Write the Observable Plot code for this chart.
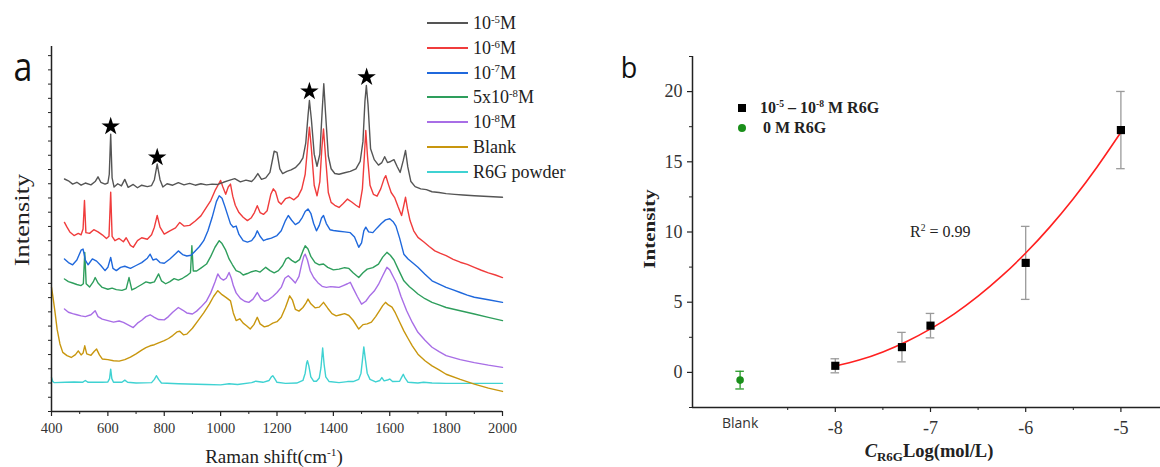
<!DOCTYPE html>
<html><head><meta charset="utf-8">
<script src="https://cdn.jsdelivr.net/npm/d3@7"></script>
<script src="https://cdn.jsdelivr.net/npm/@observablehq/plot@0.6"></script>
<style>
html,body{margin:0;padding:0;background:#fff;}
#root{position:relative;width:1160px;height:467px;overflow:hidden;background:#fff;font-family:'Liberation Serif','Times New Roman',serif;color:#222;}
.abs{position:absolute;line-height:1;white-space:nowrap;}
.sup{font-size:0.6em;position:relative;top:-0.6em;}
.sub{font-size:0.7em;position:relative;top:0.3em;}
#root svg{position:absolute;top:0;overflow:visible;}
</style></head><body><div id="root"></div>
<script>
// ---------- Panel a: Raman spectra (wavenumber, intensity a.u.) ----------
const s1e5 = [[446,63.7],[460,63.2],[475,62.3],[490,62.8],[505,62.0],[520,62.6],[540,62.1],[555,63.0],[565,64.3],[575,62.8],[590,62.3],[600,62.6],[605,65],[610,76.0],[615,64],[622,61.5],[635,62.4],[648,61.8],[660,63.6],[672,61.4],[690,62.2],[705,61.3],[720,62.0],[740,61.6],[755,61.9],[765,63.5],[775,67.8],[785,63.5],[795,61.5],[810,62.4],[830,62.0],[850,62.7],[870,62.1],[890,62.5],[910,62.0],[930,62.4],[950,62.1],[970,62.3],[990,62.2],[1010,62.8],[1030,63.3],[1050,63.8],[1070,62.9],[1090,63.4],[1110,63.0],[1120,63.8],[1132,65.2],[1145,63.6],[1160,64.0],[1175,65.5],[1190,71.3],[1200,71.0],[1210,66.5],[1220,65.2],[1235,65.8],[1250,66.2],[1265,66.8],[1280,68.0],[1292,69.5],[1302,73.5],[1310,81],[1315,85.2],[1322,80],[1332,70.5],[1342,67.2],[1352,70.5],[1360,82],[1366,89.8],[1372,82],[1382,70],[1392,66.5],[1405,65.2],[1420,65.0],[1440,65.4],[1460,65.8],[1480,66.5],[1495,68.5],[1505,74],[1512,85],[1517,89.3],[1523,84],[1532,72],[1545,69],[1560,67.5],[1572,68.2],[1582,69.8],[1592,68.2],[1603,68.5],[1615,69.0],[1627,67.0],[1637,65.5],[1648,68.8],[1656,71.5],[1664,67],[1675,63],[1690,61.6],[1710,61.0],[1730,60.8],[1750,60.2],[1775,60.0],[1800,59.7],[1830,59.5],[1860,59.3],[1900,59.1],[1950,58.9],[2000,58.7]];
const s1e6 = [[446,51.8],[455,50.5],[465,49.2],[480,48.2],[495,48.8],[505,48.4],[512,50],[517,57.8],[522,49],[535,48.8],[550,49.8],[565,49.2],[580,48.4],[595,47.4],[604,48],[610,60.1],[615,48],[625,46.8],[640,47.4],[655,46.5],[665,47.6],[680,45.5],[690,45.0],[705,46.8],[720,47.6],[740,47.2],[755,48.4],[765,50.5],[775,53.7],[785,50.5],[800,48.6],[820,49.5],[840,50.3],[855,51.8],[870,50.8],[890,51.0],[910,52.2],[930,53.6],[950,56.0],[965,57.8],[980,60.5],[992,62.2],[1000,63.3],[1008,61.5],[1018,59.5],[1027,61.5],[1035,62.3],[1043,59],[1052,56.5],[1065,54.5],[1080,53.2],[1095,52.3],[1108,53.0],[1120,54.5],[1130,56.4],[1140,54.5],[1152,54.0],[1165,55.0],[1178,59.5],[1187,61.0],[1195,60.2],[1205,57.5],[1215,56.8],[1230,58.3],[1245,58.7],[1260,58.0],[1275,59.0],[1288,61],[1300,65.0],[1308,72],[1315,77.9],[1322,72],[1332,62],[1342,59.1],[1352,63],[1359,72],[1365,77.4],[1372,70],[1382,60],[1392,57.3],[1405,56.5],[1420,55.9],[1435,57.0],[1450,58.2],[1465,57.4],[1480,56.5],[1492,55.9],[1503,61],[1510,70],[1515,77],[1521,70],[1530,62],[1542,59.5],[1555,59.0],[1568,61],[1580,63.8],[1586,64.6],[1595,62.3],[1605,60.0],[1618,58.5],[1630,56],[1642,53.7],[1650,56.5],[1656,58.7],[1663,55.5],[1672,52.3],[1685,49.5],[1700,47.7],[1720,46.5],[1740,45.2],[1760,44.0],[1780,43.3],[1800,42.7],[1825,41.7],[1850,40.9],[1875,40.3],[1900,39.5],[1925,38.7],[1950,38.0],[1975,37.4],[2000,36.7]];
const s1e7 = [[446,41.8],[460,40.8],[475,40.2],[490,41.5],[505,44.2],[512,44.5],[520,41.5],[530,40.2],[545,41.8],[560,41.2],[575,40.0],[590,38.6],[600,39.5],[610,42.2],[618,39.2],[630,38.6],[645,39.5],[660,39.8],[680,39.2],[700,40.0],[720,40.8],[740,42.0],[750,43.1],[760,41.5],[772,41.8],[785,40.8],[800,40.6],[820,41.8],[840,43.2],[850,44.0],[865,43.0],[880,42.6],[895,42.8],[910,44.0],[925,45.2],[940,46.8],[955,49.5],[970,53.2],[985,57.5],[995,59.1],[1005,58.4],[1015,56.2],[1025,53.8],[1035,51.4],[1045,50.5],[1055,50.8],[1065,48.5],[1080,46.8],[1095,46.4],[1110,46.8],[1122,48],[1130,49.5],[1140,48],[1152,46.8],[1165,47.2],[1180,47.5],[1200,48.2],[1215,49.5],[1230,52.3],[1240,53.7],[1252,52.4],[1265,51.2],[1278,51.8],[1290,53.2],[1300,54.8],[1310,55.5],[1320,54.3],[1330,51.5],[1340,49.5],[1350,51],[1358,53],[1365,53.7],[1375,51.5],[1388,49.8],[1400,49.6],[1420,49.4],[1440,49.2],[1460,49.0],[1475,47.8],[1490,45.0],[1500,46.2],[1508,49.5],[1515,50.5],[1525,49.2],[1540,49.0],[1555,50.3],[1570,51.5],[1585,52.5],[1600,52.8],[1612,52.0],[1622,50.8],[1635,47.5],[1650,43.1],[1665,41.8],[1680,40.8],[1700,39.5],[1725,37.6],[1750,35.8],[1775,34.9],[1800,34.0],[1825,33.3],[1850,32.6],[1875,31.9],[1900,31.3],[1950,30.6],[2000,29.9]];
const s5e8 = [[446,36.3],[460,35.6],[475,35.2],[490,34.8],[505,34.5],[513,35],[518,43.6],[523,35],[535,34.1],[548,35.5],[555,36.7],[565,35.2],[580,34.0],[600,33.5],[615,33.8],[630,33.4],[650,33.2],[665,33.6],[675,36.7],[685,33.3],[700,33.9],[720,34.8],[735,35.5],[750,35.2],[765,35.5],[780,37.7],[790,35.8],[805,35.0],[820,35.6],[835,36.4],[850,36.0],[865,36.5],[880,37.2],[893,38],[898,45.4],[903,38.5],[915,38.5],[930,39.3],[950,40.4],[965,42.5],[980,45.0],[995,46.8],[1005,46.0],[1018,44.2],[1030,41.8],[1042,40.2],[1055,38.6],[1068,38.2],[1080,37.4],[1095,37.8],[1110,38.3],[1125,38.6],[1140,38.2],[1160,39.5],[1175,38.6],[1190,38.0],[1205,38.6],[1220,40.0],[1232,41.8],[1240,42.2],[1252,41.4],[1265,40.8],[1280,41.6],[1292,44.0],[1300,45.4],[1310,44.5],[1320,42.5],[1335,40.8],[1350,40.2],[1365,40.4],[1380,39.5],[1400,38.8],[1420,39.0],[1440,39.4],[1455,39.2],[1470,38.0],[1490,36.7],[1505,38.0],[1520,39.0],[1540,39.4],[1560,40.4],[1575,42.3],[1590,43.6],[1602,42.8],[1615,41.5],[1630,39.0],[1650,35.8],[1670,34.2],[1685,33.2],[1700,32.2],[1725,30.9],[1750,29.9],[1775,29.2],[1800,28.5],[1850,27.6],[1900,26.7],[1950,25.8],[2000,24.9]];
const s1e8 = [[446,28.1],[460,27.2],[475,26.8],[490,26.5],[505,26.2],[520,26.0],[540,26.5],[555,27.6],[565,26.0],[580,25.3],[600,24.9],[620,24.5],[640,24.8],[655,24.4],[670,23.8],[690,23.0],[705,24.2],[720,25.0],[735,26.0],[750,26.5],[765,25.8],[780,25.2],[800,25.1],[815,26.0],[830,27.2],[850,28.5],[865,27.8],[880,27.0],[900,26.7],[915,27.5],[930,28.6],[950,30.3],[965,32.5],[980,35.5],[990,37.7],[1000,36.5],[1010,36.0],[1020,36.5],[1030,38.1],[1038,36.5],[1045,34.5],[1055,32.5],[1070,31.0],[1085,30.2],[1100,29.9],[1115,30.8],[1130,32.6],[1142,31.0],[1155,30.2],[1170,30.6],[1185,31.5],[1200,32.6],[1215,34.0],[1228,36.5],[1240,37.2],[1252,36.3],[1265,35.2],[1278,37.0],[1288,40.5],[1295,42.5],[1300,43.1],[1308,41.5],[1318,38.5],[1330,36.7],[1345,35.3],[1360,34.3],[1375,34.0],[1390,34.2],[1405,34.1],[1420,34.0],[1435,34.5],[1450,35.0],[1460,35.4],[1470,33.8],[1485,31.5],[1500,29.4],[1515,30.2],[1530,31.8],[1545,33.0],[1560,34.8],[1575,37.2],[1590,39.5],[1600,38.8],[1612,37.0],[1625,35.0],[1640,31.5],[1660,27.6],[1680,24.4],[1700,21.7],[1725,19.5],[1750,17.6],[1775,16.4],[1800,15.3],[1850,14.2],[1900,13.4],[1950,12.7],[2000,12.1]];
const sBlank = [[400,34.0],[405,31.5],[412,27.5],[420,22.5],[430,18.5],[440,16.2],[455,15.3],[470,14.8],[485,15.6],[495,16.6],[505,15.5],[512,16.0],[518,18.0],[525,15.8],[540,15.4],[552,16.5],[560,17.1],[570,15.5],[580,14.4],[600,14.2],[620,13.9],[640,13.8],[660,14.2],[680,14.9],[700,15.8],[720,16.8],[735,17.5],[750,18.0],[765,18.3],[780,18.8],[800,19.4],[815,20.0],[830,20.8],[845,21.8],[855,22.0],[868,21.0],[880,21.2],[900,22.8],[920,24.9],[940,27.0],[960,29.4],[975,31.5],[990,33.1],[1005,32.0],[1020,31.2],[1035,30.3],[1045,27],[1055,24.9],[1068,25.4],[1080,24.2],[1092,23.5],[1105,22.6],[1118,23.8],[1130,25.8],[1140,24.0],[1155,23.2],[1170,23.5],[1185,24.2],[1200,24.6],[1215,25.8],[1230,28.5],[1245,31.7],[1255,30.5],[1265,28.0],[1278,27.5],[1292,28.5],[1302,29.6],[1310,30.8],[1320,29.5],[1335,28.4],[1350,28.6],[1365,29.9],[1380,28.3],[1395,26.8],[1410,26.2],[1425,26.5],[1440,26.8],[1455,26.3],[1470,25.0],[1490,22.6],[1505,23.8],[1520,24.0],[1535,24.5],[1550,26.0],[1565,27.8],[1575,29.0],[1585,29.9],[1595,29.2],[1608,28.6],[1620,27.0],[1635,24.5],[1650,22.1],[1665,20.0],[1680,18.0],[1700,15.7],[1725,13.9],[1750,12.5],[1775,11.4],[1800,10.2],[1850,8.8],[1900,7.5],[1950,6.4],[2000,5.5]];
const sPowder = [[400,9.3],[404,8.3],[410,7.9],[450,8.0],[480,8.1],[510,8.0],[520,8.5],[530,8.0],[580,8.0],[600,8.1],[606,9],[610,11.6],[614,9],[620,8.0],[650,8.0],[660,8.6],[670,8.0],[700,7.8],[755,7.9],[765,8.8],[772,9.8],[780,8.8],[790,7.8],[850,7.6],[950,7.4],[1000,7.3],[1030,7.6],[1060,7.4],[1110,7.9],[1125,8.3],[1150,8.0],[1172,8.5],[1180,9.5],[1185,9.8],[1192,9.0],[1200,8.0],[1230,7.7],[1270,7.8],[1292,8.5],[1300,10.5],[1305,13.2],[1308,13.9],[1313,12.5],[1320,9.5],[1330,8.3],[1340,8.3],[1350,9.2],[1356,12],[1362,17.4],[1367,13],[1373,9.5],[1385,8.2],[1420,7.9],[1450,8.2],[1470,8.2],[1490,8.8],[1498,10.5],[1503,14],[1508,17.7],[1514,14],[1520,10.5],[1530,8.8],[1550,8.1],[1565,8.5],[1572,9.3],[1580,8.4],[1595,8.7],[1600,8.9],[1610,8.2],[1635,8.3],[1643,9.5],[1648,10.2],[1654,9.2],[1665,8.0],[1700,7.8],[1720,8.0],[1750,7.8],[1800,7.7],[1900,7.7],[2000,7.7]];
const starPeaks = [[610,78.1],[775,69.6],[1315,87.7],[1518,91.6]];
const seriesNames = ["10<span class='sup'>-5</span>M","10<span class='sup'>-6</span>M","10<span class='sup'>-7</span>M","5x10<span class='sup'>-8</span>M","10<span class='sup'>-8</span>M","Blank","R6G powder"];
const seriesColors = ["#555555","#f03c3c","#1f68dc","#2e9e5c","#a86ee6","#c8960e","#3fd2d2"];
const seriesData = [s1e5,s1e6,s1e7,s5e8,s1e8,sBlank,sPowder];
const xTicksA = [400,600,800,1000,1200,1400,1600,1800,2000];
const xMinorA = [500,700,900,1100,1300,1500,1700,1900];
const yMinorA = d3.range(0, 100.1, 3.9);

// ---------- Panel b: calibration ----------
const logConc = [-8, -7.3, -7, -6, -5];
const peakInt = [0.47, 1.8, 3.33, 7.8, 17.26];
const peakErr = [0.5, 1.05, 0.87, 2.6, 2.75];
const blankX = -9, blankInt = -0.55, blankErr = 0.63;
const fitX = [-8,-7.75,-7.5,-7.25,-7,-6.75,-6.5,-6.25,-6,-5.75,-5.5,-5.25,-5];
const fitY = [0.45,0.88,1.46,2.2,3.1,4.17,5.43,6.87,8.5,10.33,12.37,14.63,17.1];
const xTicksB = [-8,-7,-6,-5];
const xMinorB = [-8.5,-7.5,-6.5,-5.5,-4.5];
const yTicksB = [0,5,10,15,20];
const yMinorB = [-2.5,2.5,7.5,12.5,17.5,22.5];

const root = document.getElementById("root");
const serif = "'Liberation Serif','Times New Roman',serif";

// Panel a
const lineMarks = [];
for (let i = seriesData.length - 1; i >= 0; i--) {
  lineMarks.push(Plot.line(seriesData[i], {x: d => d[0], y: d => d[1], stroke: seriesColors[i], strokeWidth: 1.4}));
}
const plotA = Plot.plot({
  width: 580, height: 467,
  marginLeft: 51, marginRight: 78, marginTop: 46, marginBottom: 56,
  x: {domain: [400, 2000]}, y: {domain: [0, 100]},
  style: `font-family: ${serif}; font-size: 14px; color: #222; background: transparent;`,
  marks: [
    ...lineMarks,
    Plot.dot(starPeaks, {x: d => d[0], y: d => d[1], symbol: "star", r: 5.8, fill: "#000", stroke: "none"}),
    Plot.ruleY([0], {stroke: "#222", strokeWidth: 1.5}),
    Plot.ruleX([400], {stroke: "#222", strokeWidth: 1.5}),
    Plot.axisX(xTicksA, {tickSize: 5, tickPadding: 6, tickFormat: d => String(d), label: null, strokeWidth: 1.2, fontSize: 14.5}),
    Plot.axisX(xMinorA, {tickSize: 3, tickFormat: () => "", label: null}),
    Plot.axisY(yMinorA, {tickSize: 3, tickFormat: () => "", label: null})
  ]
});
plotA.style.left = "0px";
plotA.querySelectorAll("text").forEach(t => { t.style.fontFamily = serif; t.style.fill = "#333"; });
root.appendChild(plotA);

// Panel b
const pts = logConc.map((x, i) => ({x, y: peakInt[i], e: peakErr[i]}));
const blank = [{x: blankX, y: blankInt, e: blankErr}];
const fit = fitX.map((x, i) => ({x, y: fitY[i]}));
const cap = 0.045;
const plotB = Plot.plot({
  width: 600, height: 467,
  marginLeft: 112, marginRight: 12, marginTop: 56, marginBottom: 60,
  x: {domain: [-9.5, -4.5]}, y: {domain: [-2.5, 22.5]},
  style: `font-family: ${serif}; font-size: 18px; color: #222; background: transparent;`,
  marks: [
    Plot.ruleX(pts, {x: "x", y1: d => d.y - d.e, y2: d => d.y + d.e, stroke: "#9a9a9a", strokeWidth: 1.3}),
    Plot.ruleY(pts, {y: d => d.y + d.e, x1: d => d.x - cap, x2: d => d.x + cap, stroke: "#9a9a9a", strokeWidth: 1.3}),
    Plot.ruleY(pts, {y: d => d.y - d.e, x1: d => d.x - cap, x2: d => d.x + cap, stroke: "#9a9a9a", strokeWidth: 1.3}),
    Plot.ruleX(blank, {x: "x", y1: d => d.y - d.e, y2: d => d.y + d.e, stroke: "#2a9a2a", strokeWidth: 1.3}),
    Plot.ruleY(blank, {y: d => d.y + d.e, x1: d => d.x - cap, x2: d => d.x + cap, stroke: "#2a9a2a", strokeWidth: 1.3}),
    Plot.ruleY(blank, {y: d => d.y - d.e, x1: d => d.x - cap, x2: d => d.x + cap, stroke: "#2a9a2a", strokeWidth: 1.3}),
    Plot.line(fit, {x: "x", y: "y", stroke: "#ff2020", strokeWidth: 1.6, curve: "natural"}),
    Plot.dot(pts, {x: "x", y: "y", symbol: "square", r: 4.6, fill: "#000", stroke: "none"}),
    Plot.dot(blank, {x: "x", y: "y", r: 3.8, fill: "#1a8f1a", stroke: "none"}),
    Plot.ruleY([-2.5], {stroke: "#222", strokeWidth: 1.5}),
    Plot.ruleX([-9.5], {stroke: "#222", strokeWidth: 1.5}),
    Plot.axisX(xTicksB, {tickSize: 5, tickPadding: 9, tickFormat: d => String(d), label: null, strokeWidth: 1.2, fontSize: 18}),
    Plot.axisX(xMinorB, {tickSize: 3, tickFormat: () => "", label: null}),
    Plot.axisX([blankX], {tickSize: 0, tickPadding: 11, tickFormat: () => "Blank", fontSize: 14, label: null}),
    Plot.axisY(yTicksB, {tickSize: 5, tickPadding: 5, tickFormat: d => String(d), label: null, strokeWidth: 1.2, fontSize: 18}),
    Plot.axisY(yMinorB, {tickSize: 3, tickFormat: () => "", label: null})
  ]
});
plotB.style.left = "580px";
plotB.querySelectorAll("text").forEach(t => {
  t.style.fontFamily = t.textContent === "Blank" ? "'Open Sans',sans-serif" : serif;
  t.style.fill = "#333";
});
root.appendChild(plotB);

// ---------- text overlays ----------
function addDiv(html, css) {
  const d = document.createElement("div");
  d.className = "abs";
  d.innerHTML = html;
  Object.assign(d.style, css);
  root.appendChild(d);
  return d;
}
// panel letters
addDiv("a", {left: "23px", top: "65px", fontFamily: "'Open Sans',sans-serif", fontSize: "34px", transform: "translate(-50%,-50%) scaleY(1.2)", color: "#111"});
addDiv("b", {left: "629px", top: "66px", fontFamily: "'Open Sans',sans-serif", fontSize: "27px", transform: "translate(-50%,-50%) scaleY(1.1)", color: "#111"});
// panel a axis titles
addDiv("Raman shift(cm<span class='sup'>-1</span>)", {left: "274px", top: "447px", fontSize: "19px", transform: "translateX(-50%)"});
addDiv("Intensity", {left: "22px", top: "220px", fontSize: "22px", transform: "translate(-50%,-50%) rotate(-90deg) scaleX(1.2)"});
// panel a legend
seriesNames.forEach((name, i) => {
  const cy = 23.3 + i * 24.7;
  addDiv("", {left: "427px", top: (cy - 1) + "px", width: "41px", height: "0px", borderTop: "2px solid " + seriesColors[i]});
  addDiv(name, {left: "473px", top: (cy - 9) + "px", fontSize: "18px"});
});
// panel b axis titles
addDiv("<i>C</i><span class='sub'>R6G</span>Log(mol/L)", {left: "929px", top: "442px", fontSize: "18.5px", fontWeight: "bold", transform: "translateX(-50%)"});
addDiv("Intensity", {left: "650px", top: "229px", fontSize: "17.5px", fontWeight: "bold", transform: "translate(-50%,-50%) rotate(-90deg) scaleX(1.2)"});
// panel b legend
addDiv("", {left: "738px", top: "104px", width: "8px", height: "8px", background: "#000"});
addDiv("10<span class='sup'>-5</span> – 10<span class='sup'>-8</span> M R6G", {left: "760px", top: "100px", fontSize: "16px", fontWeight: "bold"});
addDiv("", {left: "738px", top: "124px", width: "8px", height: "8px", background: "#1a8f1a", borderRadius: "50%"});
addDiv("0 M R6G", {left: "763px", top: "120px", fontSize: "16px", fontWeight: "bold"});
// R^2 annotation
addDiv("R<span class='sup'>2</span> = 0.99", {left: "910px", top: "224px", fontSize: "16px"});
</script></body></html>
